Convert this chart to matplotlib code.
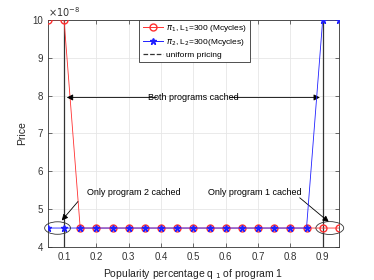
import matplotlib
matplotlib.use("Agg")
import matplotlib.pyplot as plt
from matplotlib.patches import Ellipse
from matplotlib.lines import Line2D

q1 = [0.05, 0.10, 0.15, 0.20, 0.25, 0.30, 0.35, 0.40, 0.45, 0.50,
      0.55, 0.60, 0.65, 0.70, 0.75, 0.80, 0.85, 0.90, 0.95]
price1 = [10, 10, 4.5, 4.5, 4.5, 4.5, 4.5, 4.5, 4.5, 4.5,
          4.5, 4.5, 4.5, 4.5, 4.5, 4.5, 4.5, 4.5, 4.5]   # x 1e-8
price2 = [4.5, 4.5, 4.5, 4.5, 4.5, 4.5, 4.5, 4.5, 4.5, 4.5,
          4.5, 4.5, 4.5, 4.5, 4.5, 4.5, 4.5, 10, 10]     # x 1e-8
uniform_x = [0.1, 0.9]

plt.rcParams['font.family'] = ['Liberation Sans', 'DejaVu Sans']
plt.rcParams['font.size'] = 7

fig = plt.figure(figsize=(3.74, 2.8), dpi=100)
ax = fig.add_axes([0.128, 0.118, 0.778, 0.811])

ax.plot(q1, price1, color='#ff3030', marker='o', mfc='none', ms=5, lw=0.6,
        label=r'$\pi_1$, L$_1$=300 (Mcycles)', zorder=3)
ax.plot(q1, price2, color='#2020ff', marker='*', ms=5, lw=0.6,
        label=r'$\pi_2$, L$_2$=300(Mcycles)', zorder=4)
for x in uniform_x:
    ax.axvline(x, color='#333333', lw=0.9, zorder=2)

ax.set_xlim(0.05, 0.95)
ax.set_ylim(4, 10)
ax.set_xticks([0.1, 0.2, 0.3, 0.4, 0.5, 0.6, 0.7, 0.8, 0.9])
ax.set_yticks([4, 5, 6, 7, 8, 9, 10])
ax.grid(True, color='#e6e6e6', lw=0.6)
ax.set_axisbelow(True)
ax.tick_params(direction='in', top=True, right=True, length=3, width=0.5,
               colors='#333333', labelsize=7)
for s in ax.spines.values():
    s.set_linewidth(0.6)
    s.set_color('#333333')
ax.set_xlabel('Popularity percentage q$_{\\ 1}$ of program 1', fontsize=7.5, color='#222222')
ax.set_ylabel('Price', fontsize=7.5, color='#222222')
ax.text(0.0, 1.005, r'$\times10^{-8}$', transform=ax.transAxes, fontsize=7,
        color='#333333', va='bottom', ha='left')

handles = [Line2D([], [], color='#ff3030', marker='o', mfc='none', ms=5, lw=0.7),
           Line2D([], [], color='#2020ff', marker='*', ms=5, lw=0.7),
           Line2D([], [], color='#333333', ls='--', lw=0.9)]
labels = [r'$\pi_1$, L$_1$=300 (Mcycles)', r'$\pi_2$, L$_2$=300(Mcycles)', 'uniform pricing']
leg = ax.legend(handles, labels, loc='upper center', bbox_to_anchor=(0.505, 1.0),
                fontsize=6, frameon=True, fancybox=False, edgecolor='#333333',
                framealpha=1, borderpad=0.4, labelspacing=0.35, handlelength=2.4,
                handletextpad=0.4, borderaxespad=0)
leg.get_frame().set_linewidth(0.6)

arrowprops = dict(arrowstyle='-|>', color='black', lw=0.6, mutation_scale=9)
ax.annotate('', xy=(0.1, 7.95), xytext=(0.395, 7.95), arrowprops=arrowprops)
ax.annotate('', xy=(0.9, 7.95), xytext=(0.605, 7.95), arrowprops=arrowprops)
ax.text(0.5, 7.95, 'Both programs cached', ha='center', va='center', fontsize=6.5)

ax.text(0.17, 5.43, 'Only program 2 cached', fontsize=6.5, ha='left', va='center')
ax.annotate('', xy=(0.093, 4.7), xytext=(0.143, 5.2),
            arrowprops=dict(arrowstyle='-|>', color='black', lw=0.6,
                            mutation_scale=9, shrinkA=0, shrinkB=0))
ax.text(0.545, 5.43, 'Only program 1 cached', fontsize=6.5, ha='left', va='center')
ax.annotate('', xy=(0.919, 4.66), xytext=(0.829, 5.3),
            arrowprops=dict(arrowstyle='-|>', color='black', lw=0.6,
                            mutation_scale=9, shrinkA=0, shrinkB=0))
ax.add_patch(Ellipse((0.08, 4.5), 0.08, 0.33, fill=False, lw=0.6,
                     color='#333333', zorder=5, clip_on=False))
ax.add_patch(Ellipse((0.922, 4.5), 0.086, 0.34, fill=False, lw=0.6,
                     color='#333333', zorder=5, clip_on=False))

fig.savefig('out.png', dpi=100)
